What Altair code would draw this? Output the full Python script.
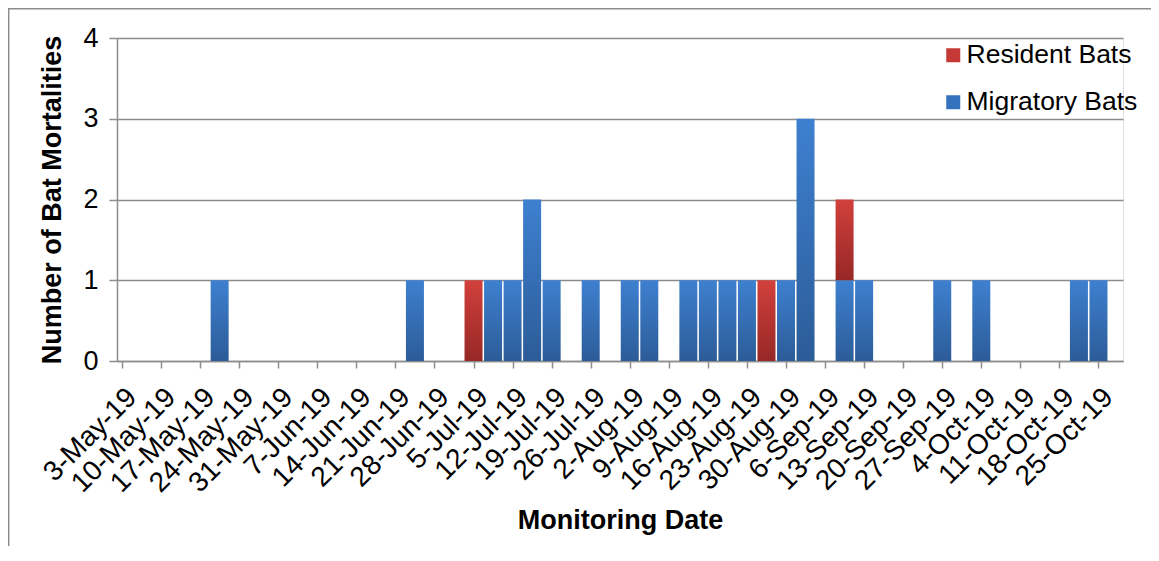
import altair as alt
import pandas as pd

# Weekly tick labels (every second survey slot)
week_labels = ["3-May-19", "10-May-19", "17-May-19", "24-May-19", "31-May-19",
               "7-Jun-19", "14-Jun-19", "21-Jun-19", "28-Jun-19", "5-Jul-19",
               "12-Jul-19", "19-Jul-19", "26-Jul-19", "2-Aug-19", "9-Aug-19",
               "16-Aug-19", "23-Aug-19", "30-Aug-19", "6-Sep-19", "13-Sep-19",
               "20-Sep-19", "27-Sep-19", "4-Oct-19", "11-Oct-19", "18-Oct-19",
               "25-Oct-19"]

# Survey slot (twice-weekly monitoring, slot 0 = 3-May-19) for each non-zero date
slots = [5, 15, 18, 19, 20, 21, 22, 24, 26, 27, 29, 30, 31, 32, 33, 34, 35, 37, 38, 42, 44, 49, 50]
migratory = [1, 1, 0, 1, 1, 2, 1, 1, 1, 1, 1, 1, 1, 1, 0, 1, 3, 1, 1, 1, 1, 1, 1]
resident = [0, 0, 1, 0, 0, 0, 0, 0, 0, 0, 0, 0, 0, 0, 1, 0, 0, 1, 0, 0, 0, 0, 0]

series_names = ["Resident Bats", "Migratory Bats"]
series_colors = ["#c53a37", "#3572bd"]

n_slots = 2 * len(week_labels)  # 52 slots -> 0..51

df = pd.DataFrame({"slot": slots, "migratory": migratory, "resident": resident})
legend_df = pd.DataFrame({"series": series_names})

W, H = 1006, 323
FONT = "Liberation Sans"
GRAY = "#8c8c8c"

labels_js = "[" + ",".join("'" + s + "'" for s in week_labels) + "]"
label_expr = f"datum.value % 2 == 0 ? {labels_js}[datum.value / 2] : ''"

x_scale = alt.Scale(domain=[0, n_slots - 1], nice=False, zero=False)
y_scale = alt.Scale(domain=[0, 4], nice=False)

x_axis = alt.Axis(values=list(range(n_slots)), labelExpr=label_expr, labelAngle=-45,
                  labelOverlap=False, labelFlush=False, labelBound=False,
                  tickSize=7, tickColor=GRAY, tickWidth=1.5, domainColor=GRAY, domainWidth=1.5,
                  grid=False, labelFontSize=28, labelFont=FONT, labelColor="black",
                  labelPadding=15,
                  title="Monitoring Date", titleFont=FONT, titleFontSize=27,
                  titleFontWeight="bold", titleColor="black", titlePadding=10)
y_axis = alt.Axis(values=[0, 1, 2, 3, 4], format="d", tickSize=8, tickColor=GRAY, tickWidth=1.5,
                  domainColor=GRAY, domainWidth=1.5, grid=True, gridColor=GRAY, gridWidth=1.5,
                  labelFontSize=27, labelFont=FONT, labelColor="black", labelPadding=11,
                  title="Number of Bat Mortalities", titleFont=FONT, titleFontSize=27,
                  titleFontWeight="bold", titleColor="black", titlePadding=16)

blue_grad = alt.Gradient(gradient="linear", x1=0, x2=0, y1=0, y2=1,
                         stops=[alt.GradientStop(offset=0, color="#3e80d0"),
                                alt.GradientStop(offset=1, color="#2c5c98")])
red_grad = alt.Gradient(gradient="linear", x1=0, x2=0, y1=0, y2=1,
                        stops=[alt.GradientStop(offset=0, color="#d2403c"),
                               alt.GradientStop(offset=1, color="#962826")])

base = alt.Chart(df)

migr = base.transform_filter("datum.migratory > 0").mark_bar(size=18, color=blue_grad).encode(
    x=alt.X("slot:Q", scale=x_scale, axis=x_axis),
    y=alt.Y("migratory:Q", scale=y_scale, axis=y_axis),
    y2=alt.Y2(datum=0),
)

res = base.transform_filter("datum.resident > 0").transform_calculate(
    top="datum.migratory + datum.resident"
).mark_bar(size=18, color=red_grad).encode(
    x=alt.X("slot:Q", scale=x_scale),
    y=alt.Y("top:Q", scale=y_scale),
    y2="migratory:Q",
)

legend_layer = alt.Chart(legend_df).mark_square(opacity=0, size=1).encode(
    x=alt.value(0), y=alt.value(0),
    color=alt.Color("series:N",
                    scale=alt.Scale(domain=series_names, range=series_colors),
                    legend=alt.Legend(title=None, orient="none", legendX=823, legendY=4,
                                      symbolType="square", symbolSize=196, symbolOpacity=1,
                                      symbolStrokeWidth=0, labelFontSize=26.5, labelFont=FONT,
                                      labelColor="black", rowPadding=20, labelOffset=0,
                                      labelLimit=400)),
)

frame = alt.Chart(pd.DataFrame({"f": [0]})).mark_rect(fill=None, stroke=GRAY, strokeWidth=1.5).encode(
    x=alt.value(-108.3), y=alt.value(-29.3), x2=alt.value(W + 300), y2=alt.value(H + 400)
)

chart = alt.layer(frame, migr, res, legend_layer).properties(
    width=W, height=H,
    autosize=alt.AutoSizeParams(type="none"),
    padding={"left": 109, "top": 30, "right": 28, "bottom": 185},
).configure_view(stroke=None).configure(background="white")

chart.save("out.html", embed_options={"renderer": "svg", "actions": False})
